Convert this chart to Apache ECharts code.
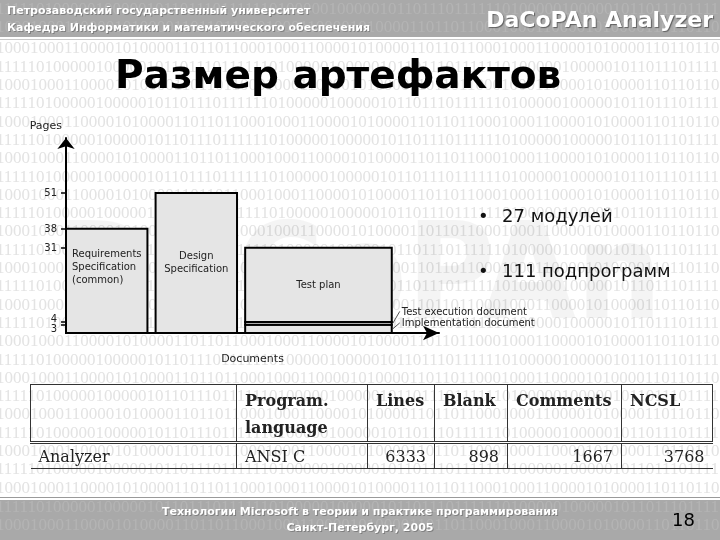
<!DOCTYPE html>
<html>
<head>
<meta charset="utf-8">
<script src="https://cdn.jsdelivr.net/npm/echarts@6/dist/echarts.min.js"></script>
<style>
  html, body { margin: 0; padding: 0; background: #fff; }
  #page { position: relative; width: 720px; height: 540px; overflow: hidden; font-family: "DejaVu Sans", sans-serif; }
  #bg { position: absolute; left: 0; top: 0; z-index: 0; }
  #main { position: absolute; left: 0; top: 0; width: 720px; height: 540px; z-index: 2; }
  .htxt { position: absolute; color: #fff; font-weight: bold; font-size: 11px; text-shadow: 1px 1px 0 rgba(0,0,0,0.25); white-space: nowrap; z-index: 3; }
  #brand { position: absolute; right: 7px; top: 7px; color: #fff; font-weight: bold; font-size: 22px; text-shadow: 1px 1px 1px rgba(0,0,0,0.45); z-index: 3; }
  #title { position: absolute; left: 115px; top: 52px; font-weight: bold; font-size: 39px; color: #000; z-index: 3; white-space: nowrap; }
  #bullets { position: absolute; left: 478px; top: 205px; margin: 0; padding: 0; list-style: none; font-size: 18px; color: #111; z-index: 3; }
  #bullets li { height: 55px; white-space: nowrap; }
  #bullets li::before { content: "•"; display: inline-block; width: 24px; }
  #tbl { position: absolute; left: 30px; top: 384px; border-collapse: collapse; table-layout: fixed; z-index: 3; font-family: "DejaVu Serif", serif; font-size: 16px; color: #222; }
  #tbl th { font-weight: bold; text-align: left; vertical-align: top; height: 52px; padding: 2px 8px 0 8px; line-height: 27px; border-top: 1px solid #333; border-left: 1px solid #333; border-bottom: 3px double #333; white-space: pre; }
  #tbl th:last-child { border-right: 1px solid #333; }
  #tbl td { height: 24px; padding: 0 8px; border-left: 1px solid #333; border-bottom: 1px solid #333; white-space: nowrap; }
  #tbl td:first-child { border-left: none; }
  #tbl td.num { text-align: right; }
  #num { position: absolute; right: 25px; top: 509px; font: 18px "DejaVu Sans", sans-serif; color: #000; z-index: 4; }
</style>
</head>
<body>
<div id="page">
  <canvas id="bg" width="720" height="540"></canvas>
  <div id="main"></div>
  <div class="htxt" style="left:7px;top:4px">Петрозаводский государственный университет</div>
  <div class="htxt" style="left:7px;top:21px">Кафедра Информатики и математического обеспечения</div>
  <div id="brand">DaCoPAn Analyzer</div>
  <div id="title">Размер артефактов</div>
  <ul id="bullets"></ul>
  <table id="tbl">
    <colgroup>
      <col style="width:206px"><col style="width:131px"><col style="width:67px">
      <col style="width:73px"><col style="width:114px"><col style="width:91px">
    </colgroup>
    <thead><tr id="thead"></tr></thead>
    <tbody><tr id="trow"></tr></tbody>
  </table>
  <div class="htxt" style="left:0;width:720px;text-align:center;top:505px">Технологии Microsoft в теории и практике программирования</div>
  <div class="htxt" style="left:0;width:720px;text-align:center;top:521px">Санкт-Петербург, 2005</div>
  <div id="num">18</div>
</div>
<script>
// chart data
const docNames = ['Requirements\nSpecification\n(common)', 'Design\nSpecification', 'Implementation document', 'Test execution document', 'Test plan'];
const docPages = [38, 51, 3, 1, 27];
const docGroup = [0, 1, 2, 2, 2];
const pageTicks = [3, 4, 31, 38, 51];

// slide texts
const bulletItems = ['27 модулей', '111 подпрограмм'];
const tableHead = ['', 'Program.\nlanguage', 'Lines', 'Blank', 'Comments', 'NCSL'];
const tableRow = ['Analyzer', 'ANSI C', 6333, 898, 1667, 3768];

// slide background: binary rows, watermark, header/footer bands
const rowA = '1000100011000010100001101101';
const rowB = '1111101000001000001011011101';
function drawBackground() {
  const ctx = document.getElementById('bg').getContext('2d');
  ctx.fillStyle = '#fff';
  ctx.fillRect(0, 0, 720, 540);
  ctx.font = '17px "Liberation Serif"';
  ctx.textBaseline = 'middle';
  ctx.fillStyle = '#e3e3e3';
  for (let i = 0; i < 26; i++) {
    ctx.fillText((i % 2 ? rowB : rowA).repeat(4), -4, 49 + i * 18.3);
  }
  // faint logo watermark
  ctx.font = 'bold 134px "DejaVu Sans Condensed", "DejaVu Sans"';
  ctx.fillStyle = 'rgba(0,0,0,0.045)';
  ctx.textBaseline = 'alphabetic';
  ctx.textAlign = 'right';
  ctx.fillText('DaCoPAn', 662, 318);
  ctx.textAlign = 'left';
  // bands
  ctx.fillStyle = '#a9a9a9';
  ctx.fillRect(0, 0, 720, 37);
  ctx.fillRect(0, 500, 720, 40);
  ctx.fillStyle = '#c8c8c8';
  ctx.fillRect(0, 39, 720, 1);
  ctx.fillStyle = '#9a9a9a';
  ctx.fillRect(0, 497, 720, 1);
  ctx.font = '17px "Liberation Serif"';
  ctx.textBaseline = 'middle';
  ctx.fillStyle = 'rgba(255,255,255,0.13)';
  [10, 28].forEach((y, i) => ctx.fillText((i % 2 ? rowA : rowB).repeat(4), -4, y));
  [508, 526].forEach((y, i) => ctx.fillText((i % 2 ? rowA : rowB).repeat(4), -4, y));
}
drawBackground();

document.getElementById('bullets').innerHTML = bulletItems.map(t => '<li>' + t + '</li>').join('');
document.getElementById('thead').innerHTML = tableHead.map(t => '<th>' + t + '</th>').join('');
document.getElementById('trow').innerHTML = tableRow.map(v =>
  '<td' + (typeof v === 'number' ? ' class="num"' : '') + '>' + v + '</td>').join('');

// bars: group position/width along x (layout only)
const groupStart = [0, 1.1, 2.2];
const groupWidth = [1, 1, 1.8];
const labelLayout = [
  { mode: 'topLeft', dy: 18 },
  { mode: 'top', dy: 56 },
  { mode: 'side', dy: -6 },
  { mode: 'side', dy: -12 },
  { mode: 'center', dy: 0 }
];

const stackTop = {};
const barData = docPages.map(function (v, i) {
  const g = docGroup[i];
  const base = stackTop[g] || 0;
  stackTop[g] = base + v;
  return [g, base, base + v, i];
});

function renderBar(params, api) {
  const g = api.value(0), base = api.value(1), top = api.value(2), i = api.value(3);
  const x0 = groupStart[g], x1 = x0 + groupWidth[g];
  const tl = api.coord([x0, top]);
  const br = api.coord([x1, base]);
  const w = br[0] - tl[0], h = br[1] - tl[1];
  const children = [{
    type: 'rect',
    shape: { x: tl[0], y: tl[1], width: w, height: h },
    style: { fill: '#e5e5e5', stroke: '#000', lineWidth: 2 }
  }];
  const lab = labelLayout[i];
  let tx, ty, align = 'center', va = 'middle';
  if (lab.mode === 'topLeft') {
    tx = tl[0] + 6; ty = tl[1] + lab.dy; align = 'left'; va = 'top';
  } else if (lab.mode === 'top') {
    tx = tl[0] + w / 2; ty = tl[1] + lab.dy; va = 'top';
  } else if (lab.mode === 'center') {
    tx = tl[0] + w / 2; ty = tl[1] + h / 2;
  } else {
    const cy = tl[1] + h / 2;
    tx = br[0] + 10; ty = cy + lab.dy; align = 'left';
    children.push({
      type: 'polyline',
      shape: { points: [[br[0] + 1, cy], [tx - 2, ty]] },
      style: { stroke: '#555', lineWidth: 1, fill: 'none' }
    });
  }
  children.push({
    type: 'text',
    style: {
      text: docNames[i], x: tx, y: ty,
      align: align, verticalAlign: va, textAlign: align, textVerticalAlign: va,
      fill: '#222', font: '10px "DejaVu Sans"', lineHeight: 13
    }
  });
  return { type: 'group', children: children };
}

const chart = echarts.init(document.getElementById('main'), null, { renderer: 'svg' });
chart.setOption({
  backgroundColor: 'transparent',
  animation: false,
  grid: { left: 66, right: 281, top: 138, bottom: 207 },
  xAxis: {
    type: 'value', min: 0, max: 4.58,
    name: 'Documents', nameLocation: 'middle', nameGap: 20,
    nameTextStyle: { fontFamily: 'DejaVu Sans', fontSize: 11, color: '#222' },
    axisLine: { lineStyle: { color: '#000', width: 2 }, symbol: ['none', 'arrow'], symbolSize: [11, 16] },
    axisTick: { show: false }, axisLabel: { show: false }, splitLine: { show: false }
  },
  yAxis: {
    type: 'value', min: 0, max: 71,
    name: 'Pages', nameLocation: 'end', nameGap: 7,
    nameTextStyle: { fontFamily: 'DejaVu Sans', fontSize: 11, color: '#222', align: 'right', padding: [0, 4, 0, 0] },
    axisLine: { show: true, lineStyle: { color: '#000', width: 2 }, symbol: ['none', 'arrow'], symbolSize: [13, 11] },
    axisTick: { show: true, customValues: pageTicks, length: 5, lineStyle: { color: '#000', width: 1.5 } },
    axisLabel: {
      customValues: pageTicks, margin: 9, color: '#222', fontFamily: 'DejaVu Sans', fontSize: 10,
      formatter: function (v) {
        if (v === 4) return '{up|4}';
        if (v === 3) return '{dn|3}';
        return String(v);
      },
      rich: {
        up: { fontSize: 10, fontFamily: 'DejaVu Sans', color: '#222', padding: [0, 0, 8, 0] },
        dn: { fontSize: 10, fontFamily: 'DejaVu Sans', color: '#222', padding: [7, 0, 0, 0] }
      }
    },
    splitLine: { show: false }
  },
  series: [{
    type: 'custom',
    renderItem: renderBar,
    encode: { x: 0, y: 2 },
    data: barData
  }]
});
</script>
</body>
</html>
